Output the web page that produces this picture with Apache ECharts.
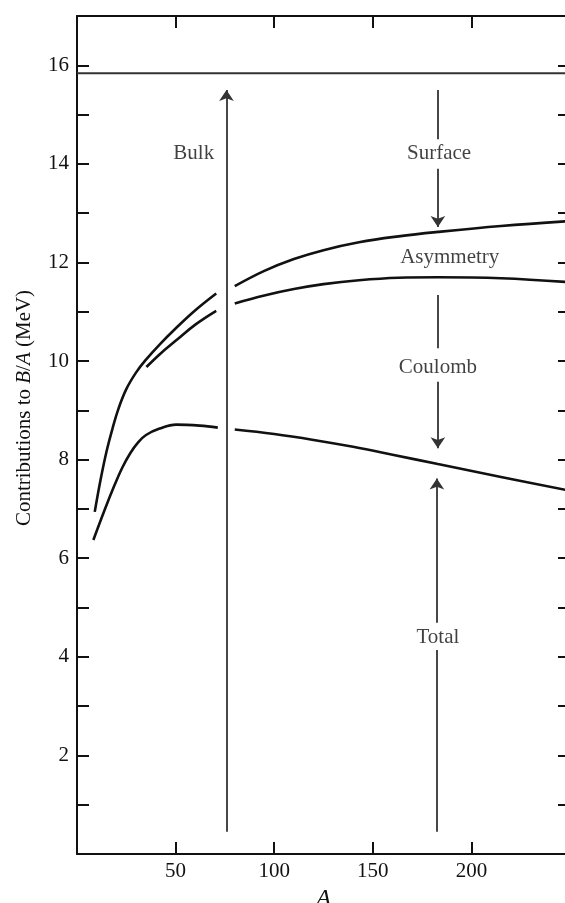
<!DOCTYPE html>
<html>
<head>
<meta charset="utf-8">
<script src="https://cdn.jsdelivr.net/npm/echarts@6/dist/echarts.min.js"></script>
<style>html,body{margin:0;padding:0;background:#fff;}#c{width:565px;height:903px;}</style>
</head>
<body>
<div id="c"></div>
<script>
// ---- data ----
var xTicks = [50, 100, 150, 200];
var yTicks = [2, 4, 6, 8, 10, 12, 14, 16];
var bulkLevel = 15.84;

var surfaceLeft = [[9,6.94],[12,7.6],[15,8.17],[18,8.63],[21,9.03],[25,9.43],[30,9.77],[35,10.03],[42,10.34],[50,10.66],[60,11.03],[70.6,11.37]];
var surfaceRight = [[80,11.52],[95,11.83],[110,12.07],[125,12.25],[143,12.41],[163,12.53],[183,12.62],[215,12.74],[250,12.84]];

var asymLeft = [[35.2,9.88],[42,10.14],[50,10.41],[60,10.74],[70.6,11.02]];
var asymRight = [[80,11.17],[95,11.33],[110,11.46],[125,11.56],[143,11.64],[163,11.69],[183,11.70],[215,11.68],[250,11.60]];

var totalLeft = [[8.3,6.37],[14,6.98],[19,7.48],[23,7.84],[27,8.13],[31,8.35],[35,8.5],[41.9,8.63],[50.3,8.71],[62.2,8.69],[71.4,8.65]];
var totalRight = [[80,8.61],[100,8.52],[120,8.40],[140,8.26],[160,8.10],[183,7.91],[215,7.65],[250,7.37]];

// arrows: [from, to, arrowhead at end?]
var arrows = [
  [[75.8,0.45],[75.8,15.5],true],
  [[183,15.5],[183,14.5],false],
  [[183,13.9],[183,12.72],true],
  [[183,11.34],[183,10.26],false],
  [[183,9.58],[183,8.23],true],
  [[182.5,0.45],[182.5,4.14],false],
  [[182.5,4.69],[182.5,7.62],true]
];

var labels = [
  ['Bulk', 59.2, 14.21],
  ['Surface', 183.6, 14.21],
  ['Asymmetry', 189, 12.11],
  ['Coulomb', 183, 9.86],
  ['Total', 183, 4.40]
];

// ---- chart ----
var FONT = '"Liberation Serif", "DejaVu Serif", serif';
var INK = '#111';
var chart = echarts.init(document.getElementById('c'), null, {renderer: 'canvas'});

function curve(d) {
  return {
    type: 'line', data: d, smooth: 0.4, showSymbol: false, symbol: 'none',
    lineStyle: {color: INK, width: 2.6}, silent: true, animation: false, z: 3
  };
}

var arrowSeries = arrows.map(function (a) {
  return {
    type: 'lines', coordinateSystem: 'cartesian2d',
    symbol: ['none', a[2] ? 'arrow' : 'none'], symbolSize: [6, 11],
    lineStyle: {color: '#333', width: 1.8, opacity: 1},
    data: [{coords: [a[0], a[1]]}], silent: true, animation: false, z: 4
  };
});

function axisCommon() {
  return {
    axisLine: {show: true, onZero: false, lineStyle: {color: INK, width: 2}},
    axisTick: {show: true, inside: true, length: 12, lineStyle: {color: INK, width: 2}},
    splitLine: {show: false}
  };
}

var option = {
  backgroundColor: '#fff',
  animation: false,
  grid: {left: 77, top: 16, width: 493, height: 838, containLabel: false, outerBoundsMode: 'none'},
  xAxis: [
    Object.assign({
      type: 'value', min: 0, max: 250, interval: 50, position: 'bottom',
      name: 'A', nameLocation: 'middle', nameGap: 31,
      nameTextStyle: {fontFamily: FONT, fontStyle: 'italic', fontSize: 24, color: INK},
      axisLabel: {
        show: true, margin: 7, fontFamily: FONT, fontSize: 21, color: INK,
        formatter: function (v) { return xTicks.indexOf(v) >= 0 ? String(v) : ''; }
      }
    }, axisCommon()),
    Object.assign({
      type: 'value', min: 0, max: 250, interval: 50, position: 'top',
      axisLabel: {show: false}
    }, axisCommon())
  ],
  yAxis: [
    Object.assign({
      type: 'value', min: 0, max: 17, interval: 1, position: 'left',
      axisLabel: {
        show: true, margin: 8, fontFamily: FONT, fontSize: 21, color: INK,
        formatter: function (v) { return yTicks.indexOf(v) >= 0 ? String(v) : ''; }
      }
    }, axisCommon()),
    Object.assign({
      type: 'value', min: 0, max: 17, interval: 1, position: 'right',
      axisLabel: {show: false}
    }, axisCommon())
  ],
  graphic: [{
    type: 'text', x: 24, y: 408, rotation: Math.PI / 2,
    style: {
      text: '{n|Contributions to }{i|B}{n|/}{i|A}{n| (MeV)}',
      align: 'center', verticalAlign: 'middle',
      rich: {
        n: {fontFamily: FONT, fontSize: 21, fill: INK},
        i: {fontFamily: FONT, fontSize: 21, fontStyle: 'italic', fill: INK}
      }
    }
  }],
  series: [
    {
      type: 'line', data: [[0, bulkLevel], [250, bulkLevel]], showSymbol: false, symbol: 'none',
      lineStyle: {color: '#333', width: 2}, silent: true, z: 3
    },
    curve(surfaceLeft), curve(surfaceRight),
    curve(asymLeft), curve(asymRight),
    curve(totalLeft), curve(totalRight),
    {
      type: 'scatter', symbolSize: 0, silent: true, z: 5,
      data: labels.map(function (l) { return {value: [l[1], l[2]], name: l[0]}; }),
      label: {
        show: true, position: 'inside', formatter: function (p) { return p.name; },
        fontFamily: FONT, fontSize: 21, color: INK, textBorderWidth: 0
      }
    }
  ].concat(arrowSeries)
};
chart.setOption(option);
</script>
</body>
</html>
